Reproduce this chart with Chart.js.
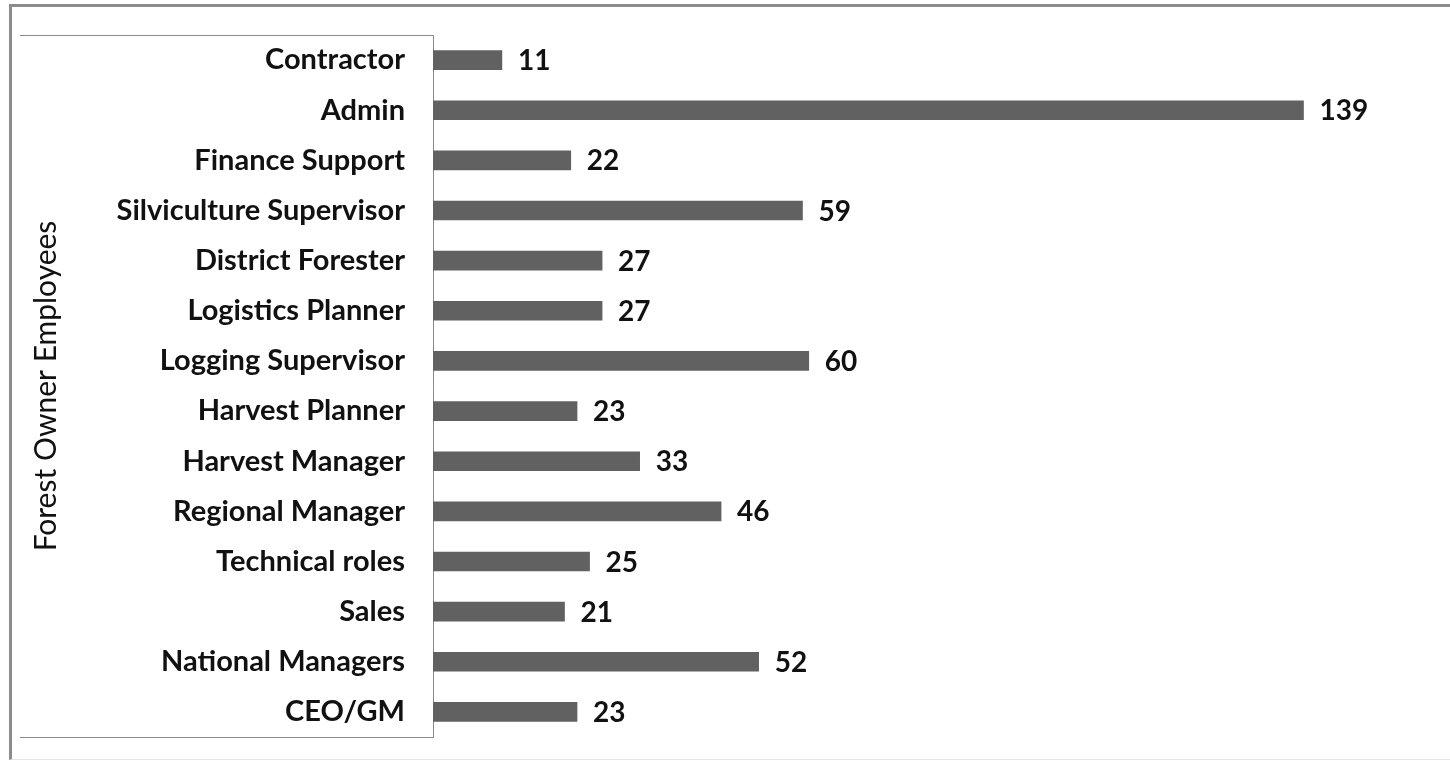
<!DOCTYPE html>
<html>
<head>
<meta charset="utf-8">
<script src="https://cdn.jsdelivr.net/npm/chart.js@4/dist/chart.umd.min.js"></script>
<style>
  html, body { margin: 0; padding: 0; background: #fff; }
  #wrap { position: relative; width: 1450px; height: 763px; overflow: hidden; }
  #frame {
    position: absolute; left: 9px; top: 4px; width: 1460px; height: 756px;
    border-top: 3px solid #8c8c8c; border-left: 3px solid #8c8c8c;
    border-bottom: 1px solid #e6e6e6; box-sizing: border-box;
  }
  canvas { position: absolute; left: 0; top: 0; }
</style>
</head>
<body>
<div id="wrap">
  <div id="frame"></div>
  <canvas id="chart" width="1450" height="763"></canvas>
</div>
<script>
// Chart data
const roles = [
  'Contractor', 'Admin', 'Finance Support', 'Silviculture Supervisor',
  'District Forester', 'Logistics Planner', 'Logging Supervisor',
  'Harvest Planner', 'Harvest Manager', 'Regional Manager',
  'Technical roles', 'Sales', 'National Managers', 'CEO/GM'
]
const employees = [11, 139, 22, 59, 27, 27, 60, 23, 33, 46, 25, 21, 52, 23]
const axisTitle = 'Forest Owner Employees'

const labelFont = 'Lato, "Open Sans", sans-serif'

// draws the number at the end of each bar
const valueLabels = {
  id: 'valueLabels',
  afterDatasetsDraw(chart) {
    const ctx = chart.ctx
    const meta = chart.getDatasetMeta(0)
    ctx.save()
    ctx.font = 'bold 28px ' + labelFont
    ctx.fillStyle = '#111'
    ctx.textBaseline = 'middle'
    meta.data.forEach((bar, i) => {
      ctx.fillText(String(employees[i]), bar.x + 16, bar.y + 1)
    })
    ctx.restore()
  }
}

// lines above and below the label column
const labelBox = {
  id: 'labelBox',
  afterDraw(chart) {
    const ctx = chart.ctx
    const area = chart.chartArea
    ctx.save()
    ctx.strokeStyle = '#8a8a8a'
    ctx.lineWidth = 1
    ctx.beginPath()
    ctx.moveTo(20, area.top + 0.5)
    ctx.lineTo(area.left, area.top + 0.5)
    ctx.moveTo(20, area.bottom + 0.5)
    ctx.lineTo(area.left, area.bottom + 0.5)
    ctx.stroke()
    ctx.restore()
  }
}

new Chart(document.getElementById('chart'), {
  type: 'bar',
  data: {
    labels: roles,
    datasets: [
      {
        data: employees,
        backgroundColor: '#616161',
        barThickness: 19
      }
    ]
  },
  options: {
    indexAxis: 'y',
    responsive: false,
    animation: false,
    layout: { padding: { left: 20, top: 35, bottom: 26, right: 15 } },
    plugins: {
      legend: { display: false },
      tooltip: { enabled: false }
    },
    scales: {
      x: {
        display: false,
        min: 0,
        max: 160
      },
      y: {
        afterFit(scale) {
          scale.width = 413
          scale.paddingTop = 0
          scale.paddingBottom = 0
        },
        grid: { display: false, drawTicks: false },
        border: { display: true, color: '#8a8a8a', width: 1 },
        ticks: {
          padding: 28,
          autoSkip: false,
          color: '#111',
          font: { family: labelFont, size: 29, weight: 'bold' }
        },
        title: {
          display: true,
          text: axisTitle,
          color: '#111',
          padding: { top: 8, bottom: 0 },
          font: { family: labelFont, size: 30 }
        }
      }
    }
  },
  plugins: [valueLabels, labelBox]
})
</script>
</body>
</html>
